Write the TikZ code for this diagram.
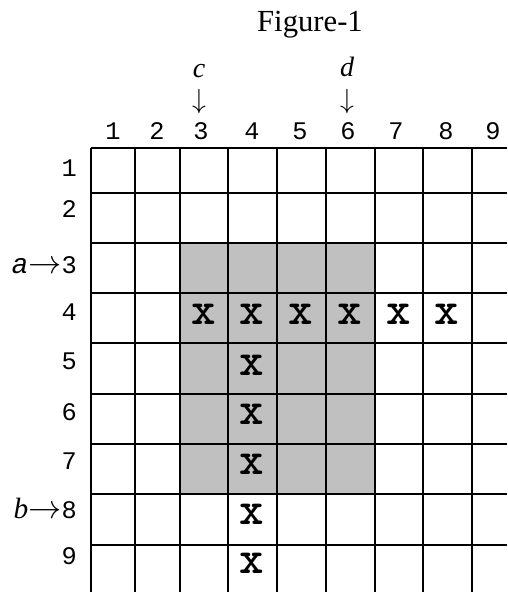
\documentclass[tikz,border=0pt]{standalone}
\usepackage{fontspec}
\setmainfont{Liberation Serif}
\newfontfamily\digitfont{Liberation Mono}
\usepackage{tikz}
\usetikzlibrary{calc}
\definecolor{shadegray}{HTML}{C0C0C0}
\newcommand{\rarr}{{\fontsize{23}{23}\selectfont$\rightarrow$}}
\tikzstyle{num} = [font=\digitfont\fontsize{19}{19}\selectfont, inner sep=0pt]
\tikzstyle{bigx} = [font=\ttfamily\bfseries\fontsize{35}{35}\selectfont, inner sep=0pt]
\tikzstyle{lbl} = [font=\itshape\fontsize{21}{21}\selectfont, inner sep=0pt]
\tikzstyle{down} = [font=\fontsize{20}{20}\selectfont, inner sep=0pt]
\tikzstyle{gridline} = [line width=2.2pt]

\begin{document}
\begin{tikzpicture}
    [x=0.75pt, y=-0.75pt]
    \useasboundingbox (0,0) rectangle (507,592);
    \node[font=\fontsize{23}{23}\selectfont, inner sep=0pt] (title) at (310,25) {Figure-1};
    % shaded block, columns 3--6 and rows 3--8
    \fill[shadegray] (180,243) rectangle (375,494);
    \foreach \x in {91,135,180,228,277,326,375,423,472}
      \draw[gridline] (\x,148) -- (\x,592);
    \foreach \y in {148,193,243,293,343,394,444,494,545}
      \draw[gridline] (91,\y) -- (507,\y);
    % column and row numbers
    \foreach \i/\x in {1/113,2/157,3/201,4/252,5/300,6/348,7/396,8/446,9/493}
      \node[num] (col\i) at (\x,131) {\i};
    \foreach \i/\y in {1/168,2/209,4/312,5/361,6/412,7/461,9/556}
      \node[num, anchor=east] (row\i) at (77,\y) {\i};
    \node[num, anchor=east] (row3) at (77,265) {{\fontsize{21}{21}\selectfont\textit{a}}\rarr3};
    \node[num, anchor=east] (row8) at (77,508) {{\rmfamily\fontsize{22}{22}\selectfont\textit{b}}\rarr8};
    % c and d
    \node[lbl] (c) at (199,71) {c};
    \node[down] (carrow) at (199,102) {$\downarrow$};
    \node[lbl] (d) at (347,67) {d};
    \node[down] (darrow) at (347,102) {$\downarrow$};
    % the marks
    \foreach \x in {204,252,301,350,399,447}
      \node[bigx] at (\x,314) {x};
    \foreach \y in {365,414,464,514,563}
      \node[bigx] at (252,\y) {x};
\end{tikzpicture}
\end{document}
